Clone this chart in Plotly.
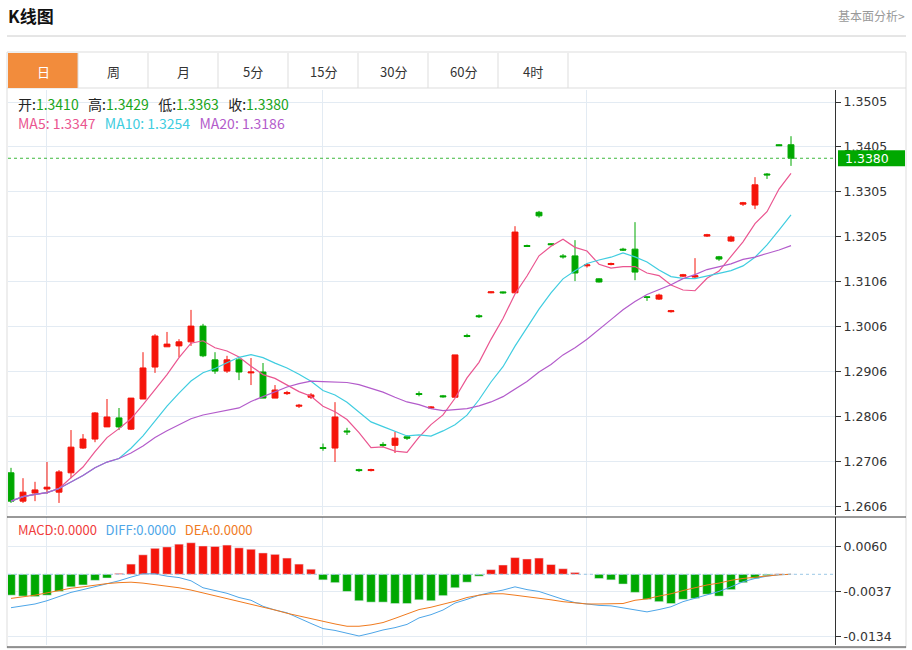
import plotly.graph_objects as go
import pandas as pd

opens  = [1.2681,1.2618,1.2636,1.2645,1.2638,1.2681,1.2736,1.2756,1.2783,1.2803,1.2778,1.2845,1.2916,1.2961,1.2963,1.2972,1.3007,1.2932,1.2907,1.2932,1.2903,1.2905,1.2847,1.2857,1.2829,1.2849,1.2737,1.2736,1.2774,1.2688,1.2686,1.2744,1.2742,1.2761,1.2857,1.2825,1.2852,1.2849,1.2986,1.3030,1.3081,1.3083,1.3081,1.3186,1.3260,1.3190,1.3163,1.3163,1.3141,1.3112,1.3144,1.3178,1.3178,1.3072,1.3067,1.3039,1.3118,1.3116,1.3207,1.3161,1.3196,1.3278,1.3276,1.3345,1.3410,1.3410]
highs  = [1.2692,1.2669,1.2661,1.2705,1.2687,1.2776,1.2767,1.2816,1.2845,1.2825,1.2847,1.2949,1.2989,1.2994,1.2978,1.3043,1.3012,1.2949,1.2941,1.2936,1.2936,1.2925,1.2876,1.2863,1.2834,1.2858,1.2746,1.2838,1.2781,1.2690,1.2690,1.2749,1.2772,1.2765,1.2862,1.2829,1.2854,1.2943,1.2990,1.3033,1.3084,1.3084,1.3229,1.3188,1.3263,1.3191,1.3167,1.3198,1.3147,1.3113,1.3148,1.3181,1.3238,1.3073,1.3079,1.3043,1.3123,1.3158,1.3212,1.3163,1.3208,1.3283,1.3338,1.3347,1.3411,1.3429]
lows   = [1.2614,1.2614,1.2618,1.2634,1.2614,1.2669,1.2734,1.2749,1.2783,1.2776,1.2776,1.2845,1.2903,1.2961,1.2938,1.2963,1.2938,1.2901,1.2903,1.2887,1.2876,1.2847,1.2847,1.2854,1.2825,1.2845,1.2730,1.2705,1.2765,1.2683,1.2684,1.2738,1.2725,1.2754,1.2851,1.2823,1.2848,1.2849,1.2982,1.3025,1.3080,1.3079,1.3081,1.3183,1.3248,1.3187,1.3157,1.3107,1.3137,1.3104,1.3142,1.3174,1.3109,1.3063,1.3065,1.3037,1.3116,1.3114,1.3205,1.3152,1.3194,1.3274,1.3267,1.3334,1.3408,1.3363]
closes = [1.2618,1.2638,1.2643,1.2649,1.2683,1.2738,1.2756,1.2814,1.2805,1.2783,1.2847,1.2914,1.2985,1.2967,1.2972,1.3007,1.2941,1.2907,1.2932,1.2905,1.2905,1.2847,1.2865,1.2859,1.2831,1.2854,1.2735,1.2805,1.2772,1.2686,1.2688,1.2742,1.2758,1.2758,1.2855,1.2827,1.2850,1.2943,1.2984,1.3028,1.3083,1.3081,1.3216,1.3184,1.3252,1.3188,1.3161,1.3125,1.3143,1.3105,1.3146,1.3176,1.3127,1.3071,1.3076,1.3041,1.3121,1.3119,1.3210,1.3156,1.3205,1.3281,1.3321,1.3343,1.3408,1.3380]

# MACD panel values in units of 1e-4
macd_hist = [-45,-47,-48,-45,-37,-27,-23,-13,-8,2,22,42,56,59,65,68,61,60,63,57,54,46,43,35,22,11,-12,-18,-37,-57,-60,-60,-63,-63,-55,-57,-46,-29,-17,-4,10,20,36,33,35,21,12,4,0,-9,-12,-21,-39,-54,-59,-63,-54,-52,-43,-47,-33,-18,-9,-3,1,0]
diff_line = [-72,-68,-64,-57,-48,-39,-33,-27,-21,-14,-6,1,1,-4,-7,-14,-29,-35,-41,-50,-56,-69,-77,-83,-95,-106,-117,-121,-127,-133,-127,-120,-115,-108,-94,-87,-77,-62,-54,-45,-39,-34,-27,-33,-37,-46,-54,-61,-64,-67,-68,-72,-77,-81,-76,-70,-59,-52,-45,-37,-27,-16,-9,-4,-1,0]
dea_line = [-52,-49,-45,-40,-35,-30,-27,-23,-20,-18,-17,-19,-22,-25,-29,-34,-40,-47,-53,-59,-65,-71,-77,-84,-90,-96,-102,-107,-112,-112,-109,-104,-95,-86,-76,-71,-65,-58,-50,-45,-42,-42,-45,-48,-52,-55,-59,-62,-64,-64,-63,-63,-56,-53,-47,-42,-35,-29,-23,-19,-13,-9,-6,-3,-1,0]

price_ticks = ["1.3505","1.3405","1.3305","1.3205","1.3106","1.3006","1.2906","1.2806","1.2706","1.2606"]
macd_ticks = ["0.0060","-0.0037","-0.0134"]
tabs = ["日","周","月","5分","15分","30分","60分","4时"]

n = len(closes)
idx = list(range(n))
cs = pd.Series(closes)
ma5 = cs.rolling(5, min_periods=1).mean()
ma10 = cs.rolling(10, min_periods=1).mean()
ma20 = cs.rolling(20, min_periods=1).mean()

RED, GREEN = "#f5140a", "#00a800"
FONT = "Noto Sans CJK SC"
W, H = 912, 650
px = lambda x: x / W
py = lambda y: 1 - y / H

fig = go.Figure()
fig.add_trace(go.Candlestick(x=idx, open=opens, high=highs, low=lows, close=closes,
    increasing=dict(line=dict(color=RED, width=1), fillcolor=RED),
    decreasing=dict(line=dict(color=GREEN, width=1), fillcolor=GREEN),
    whiskerwidth=0, xaxis="x", yaxis="y", showlegend=False, hoverinfo="skip"))
for s, c in [(ma5, "#ea5590"), (ma10, "#40cde0"), (ma20, "#b35ccb")]:
    fig.add_trace(go.Scatter(x=idx, y=s, mode="lines", line=dict(color=c, width=1.2),
                             xaxis="x", yaxis="y", showlegend=False, hoverinfo="skip"))

hist = [v * 1e-4 for v in macd_hist]
fig.add_trace(go.Bar(x=idx, y=hist, marker_color=[RED if v > 0 else GREEN for v in hist],
                     width=0.72, xaxis="x", yaxis="y2", showlegend=False, hoverinfo="skip"))
fig.add_trace(go.Scatter(x=idx, y=[v * 1e-4 for v in diff_line], mode="lines",
                         line=dict(color="#4ea6e8", width=1), xaxis="x", yaxis="y2", showlegend=False))
fig.add_trace(go.Scatter(x=idx, y=[v * 1e-4 for v in dea_line], mode="lines",
                         line=dict(color="#f07a1e", width=1), xaxis="x", yaxis="y2", showlegend=False))

p_top, p_bot = 1.3505, 1.2606
step = (p_top - p_bot) / 9
ptv = [p_top - k * step for k in range(10)]
mscale = 0.0097 / 45
mtv = [0.0060, 0.0060 - 0.0097, 0.0060 - 2 * 0.0097]

fig.update_layout(
    width=W, height=H, margin=dict(l=0, r=0, t=0, b=0),
    paper_bgcolor="white", plot_bgcolor="white",
    font=dict(family=FONT, size=12, color="#333"),
    xaxis=dict(domain=[px(8), px(835)], range=[(8 - 11) / 12, (835 - 11) / 12],
               rangeslider=dict(visible=False), showticklabels=False,
               tickvals=[2.92, 25.92, 47.92], showgrid=True, gridcolor="#e3ebf3",
               zeroline=False, anchor="y2", showline=False),
    yaxis=dict(domain=[py(515), py(90)], range=[p_top - (515 - 102) / 4500, p_top + 12 / 4500],
               side="right", tickvals=ptv, ticktext=price_ticks, ticks="outside", ticklen=5,
               tickcolor="#333", showgrid=True, gridcolor="#e3ebf3", zeroline=False,
               showline=True, linecolor="#333", anchor="x", tickfont=dict(size=12.5, color="#333", family="DejaVu Sans")),
    yaxis2=dict(domain=[py(645), py(517)], range=[-70.7 * mscale, 57.3 * mscale],
                side="right", tickvals=mtv, ticktext=macd_ticks, ticks="outside", ticklen=5,
                tickcolor="#333", showgrid=True, gridcolor="#e3ebf3", zeroline=False,
                showline=True, linecolor="#333", anchor="x", tickfont=dict(size=12.5, color="#333", family="DejaVu Sans")),
    bargap=0.3,
)

shapes = []
shapes.append(dict(type="line", xref="paper", yref="paper", x0=px(7), x1=px(906), y0=py(36), y1=py(36), line=dict(color="#ccc", width=1)))
shapes.append(dict(type="rect", xref="paper", yref="paper", x0=px(7), x1=px(906), y0=py(648), y1=py(52), line=dict(color="#ddd", width=1)))
shapes.append(dict(type="line", xref="paper", yref="paper", x0=px(7), x1=px(906), y0=py(88), y1=py(88), line=dict(color="#ddd", width=1)))
for k, t in enumerate(tabs):
    x0, x1 = 8 + 70 * k, 8 + 70 * (k + 1)
    if k == 0:
        shapes.append(dict(type="rect", xref="paper", yref="paper", x0=px(x0), x1=px(x1), y0=py(88), y1=py(53), fillcolor="#f28c3c", line=dict(width=0)))
    shapes.append(dict(type="line", xref="paper", yref="paper", x0=px(x1), x1=px(x1), y0=py(88), y1=py(53), line=dict(color="#ddd", width=1)))
shapes.append(dict(type="line", xref="paper", yref="paper", x0=px(7), x1=px(906), y0=py(517), y1=py(517), line=dict(color="#333", width=1)))
shapes.append(dict(type="line", xref="paper", yref="paper", x0=px(7), x1=px(906), y0=py(647), y1=py(647), line=dict(color="#333", width=1)))
shapes.append(dict(type="line", xref="paper", yref="y", x0=px(8), x1=px(835), y0=closes[-1], y1=closes[-1], line=dict(color="#3cb83c", width=1, dash="dot")))
shapes.append(dict(type="line", xref="paper", yref="y2", x0=px(8), x1=px(835), y0=0, y1=0, line=dict(color="#9cc9e6", width=1, dash="dot")))
shapes.append(dict(type="rect", xref="paper", yref="y", x0=px(838), x1=px(905), y0=closes[-1] - 8 / 4500, y1=closes[-1] + 8 / 4500, fillcolor=GREEN, line=dict(width=0)))
fig.update_layout(shapes=shapes)

ann = []
ann.append(dict(xref="paper", yref="paper", x=px(6), y=py(16), text="<b>K线图</b>", showarrow=False, xanchor="left", yanchor="middle", font=dict(size=17, color="#111")))
ann.append(dict(xref="paper", yref="paper", x=px(907), y=py(16), text="基本面分析>", showarrow=False, xanchor="right", yanchor="middle", font=dict(size=12, color="#999")))
for k, t in enumerate(tabs):
    ann.append(dict(xref="paper", yref="paper", x=px(8 + 70 * k + 35), y=py(71), text=t, showarrow=False, xanchor="center", yanchor="middle", font=dict(size=13, color="white" if k == 0 else "#333")))
G = "#1aa51a"
ohlc_txt = (f"开:<span style='color:{G}'>{opens[-1]:.4f}</span>   高:<span style='color:{G}'>{highs[-1]:.4f}</span>   "
            f"低:<span style='color:{G}'>{lows[-1]:.4f}</span>   收:<span style='color:{G}'>{closes[-1]:.4f}</span>")
ann.append(dict(xref="paper", yref="paper", x=px(16), y=py(104), text=ohlc_txt, showarrow=False, xanchor="left", yanchor="middle", font=dict(size=14, color="#222")))
ma_txt = (f"<span style='color:#ea5590'>MA5: {ma5.iloc[-1]:.4f}</span>   <span style='color:#40cde0'>MA10: {ma10.iloc[-1]:.4f}</span>   "
          f"<span style='color:#b35ccb'>MA20: {ma20.iloc[-1]:.4f}</span>")
ann.append(dict(xref="paper", yref="paper", x=px(16), y=py(123), text=ma_txt, showarrow=False, xanchor="left", yanchor="middle", font=dict(size=14)))
macd_txt = ("<span style='color:#f03c3c'>MACD:0.0000</span>   <span style='color:#4ea6e8'>DIFF:0.0000</span>   "
            "<span style='color:#f07a1e'>DEA:0.0000</span>")
ann.append(dict(xref="paper", yref="paper", x=px(16), y=py(529), text=macd_txt, showarrow=False, xanchor="left", yanchor="middle", font=dict(size=13)))
ann.append(dict(xref="paper", yref="y", x=px(843), y=closes[-1], text=f"{closes[-1]:.4f}", showarrow=False, xanchor="left", yanchor="middle", font=dict(size=12.5, color="white", family="DejaVu Sans")))
fig.update_layout(annotations=ann)

fig.write_html("out.html", config={"displayModeBar": False},
               post_script="document.body.style.margin='0';document.body.style.padding='0';document.body.style.overflow='hidden';")
